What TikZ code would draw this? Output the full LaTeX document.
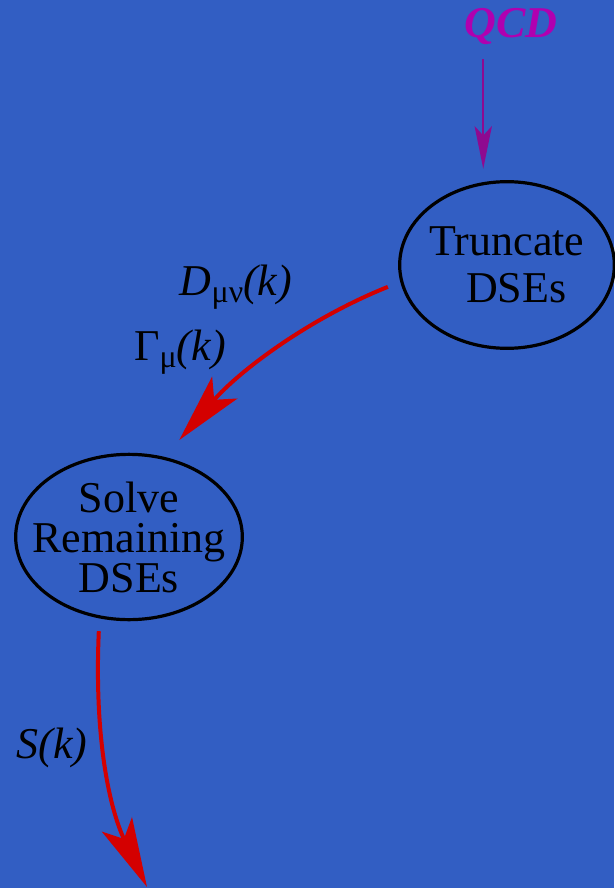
\documentclass[tikz,border=0pt]{standalone}
\usepackage{fontspec}
\setmainfont{Liberation Serif}
\usetikzlibrary{arrows.meta,shapes.geometric}
\definecolor{bgblue}{HTML}{325EC3}
\definecolor{flowred}{HTML}{D40000}
\definecolor{qcdpurple}{HTML}{B000B0}
\definecolor{feedpurple}{HTML}{8E0A90}

\begin{document}
\begin{tikzpicture}[x=0.75pt,y=-0.75pt,
        dse/.style={ellipse, draw=black, line width=2.4pt, inner sep=0pt,
                    align=center, font=\fontsize{33}{35}\selectfont},
        lbl/.style={font=\fontsize{33}{35}\selectfont},
        flow/.style={flowred, line width=3pt,
                     -{Stealth[length=52pt,width=25pt,inset=12pt]}},
        feed/.style={feedpurple, line width=1.5pt,
                     -{Stealth[length=32pt,width=13pt,inset=7pt]}},
      ]
        % background
        \fill[bgblue] (0,0) rectangle (614,888);
        \useasboundingbox (0,0) rectangle (614,888);

        % QCD on top
        \node[font=\fontsize{33}{35}\selectfont\bfseries\itshape, text=qcdpurple]
             (qcd) at (511,27) {QCD};

        % the two DSE boxes
        \node[dse, minimum width=161pt, minimum height=125pt] (trunc) at (507,265)
             {\makebox[0pt]{Truncate}\\[0pt]\makebox[0pt]{\hspace*{14pt}DSEs}};
        \node[dse, minimum width=170pt, minimum height=124pt,
              font=\fontsize{33}{30}\selectfont] (solve) at (129,537)
             {\makebox[0pt]{Solve}\\\makebox[0pt]{Remaining}\\\makebox[0pt]{DSEs}};
        \coordinate (out) at (147,887);

        % arrows
        \draw[feed, shorten <=7pt, shorten >=10pt]
             (qcd.south -| trunc.106.5) -- (trunc.106.5);
        \draw[flow, shorten <=10pt, shorten >=16.7pt]
             (trunc.189.6) .. controls (310,318) and (240,370) .. (solve.66.6);
        \draw[flow, shorten <=9.6pt]
             (solve.250.1) .. controls (94,740) and (110,810) .. (out);

        % labels
        \node[lbl] (dlab) at (236,287) {\textit{D}\raisebox{-0.35ex}{\fontsize{24}{24}\selectfont μν}\textit{(k)}};
        \node[lbl] (glab) at (180,352) {Γ\raisebox{-0.35ex}{\fontsize{24}{24}\selectfont μ}\textit{(k)}};
        \node[lbl] (slab) at (52,748) {\textit{S(k)}};
      \end{tikzpicture}
\end{document}
